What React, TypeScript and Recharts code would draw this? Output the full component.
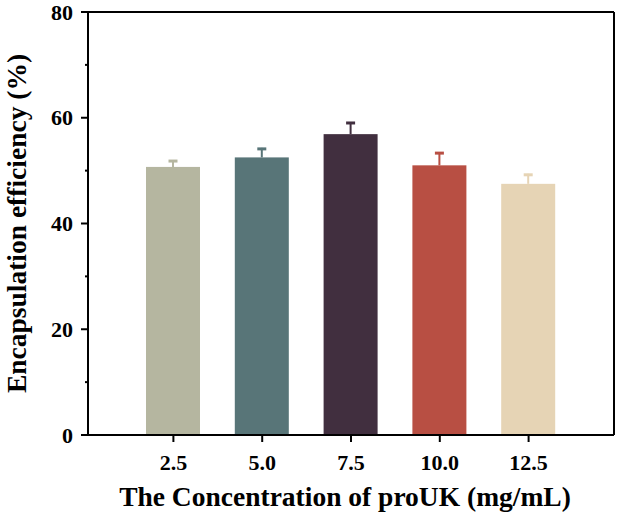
import React from 'react';
import { BarChart, Bar, XAxis, YAxis, Label, CartesianGrid } from 'recharts';

const concentrations = ['2.5', '5.0', '7.5', '10.0', '12.5'];
const efficiency = [50.7, 52.5, 56.9, 51.0, 47.5];
const errors = [1.3, 1.8, 2.3, 2.5, 1.9];
const barColors = ['#b5b6a0', '#587578', '#412f3f', '#b84f43', '#e6d4b5'];
const yTicks = [0, 10, 20, 30, 40, 50, 60, 70, 80];

const data = concentrations.map((name, i) => ({ name, value: efficiency[i], err: errors[i] }));

const FONT = '"Liberation Serif", "Times New Roman", serif';
const TICK_SIZE = 7;
const TICK_MARGIN = 8;

// bar with upper error whisker in the bar's own colour
const BarWithError = (props: any) => {
  const { x, y, width, height, index, payload } = props;
  const color = barColors[index];
  const pxPerUnit = height / payload.value;
  const top = y - payload.err * pxPerUnit;
  const cx = x + width / 2;
  return (
    <g>
      <rect x={x} y={y} width={width} height={height} fill={color} />
      <line x1={cx} x2={cx} y1={y} y2={top} stroke={color} strokeWidth={2} />
      <line x1={cx - 4.5} x2={cx + 4.5} y1={top + 1} y2={top + 1} stroke={color} strokeWidth={3} />
    </g>
  );
};

// major ticks every 20 with labels, short minor ticks in between
const YTick = (props: any) => {
  const { x, y, payload } = props;
  const v = payload.value;
  const axisX = x + TICK_SIZE + TICK_MARGIN;
  const major = v % 20 === 0;
  return (
    <g>
      <line x1={axisX - (major ? TICK_SIZE : 3)} x2={axisX} y1={y} y2={y} stroke="#000" strokeWidth={2} />
      {major && (
        <text x={x} y={y} textAnchor="end" dominantBaseline="central" fontFamily={FONT} fontWeight="bold" fontSize={22} fill="#000">
          {v}
        </text>
      )}
    </g>
  );
};

const YTitle = (props: any) => {
  const { viewBox } = props;
  const cx = viewBox.x + 16;
  const cy = viewBox.y + viewBox.height / 2;
  return (
    <text x={cx} y={cy} transform={`rotate(-90, ${cx}, ${cy})`} textAnchor="middle" dominantBaseline="central" fontFamily={FONT} fontWeight="bold" fontSize={27.5} fill="#000">
      Encapsulation efficiency (%)
    </text>
  );
};

const XTitle = (props: any) => {
  const { viewBox } = props;
  const cx = viewBox.x + viewBox.width / 2 - 6;
  return (
    <text x={cx} y={viewBox.y + viewBox.height - 7} textAnchor="middle" fontFamily={FONT} fontWeight="bold" fontSize={27.5} fill="#000">
      The Concentration of proUK (mg/mL)
    </text>
  );
};

// closes the frame: one line along the top and one along the right of the plot
const topEdge = ({ offset }: any) => [offset.top];
const rightEdge = ({ offset }: any) => [offset.left + offset.width];

export default function App() {
  return (
    <div style={{ position: 'absolute', left: 0, top: 0, background: '#fff' }}>
      <BarChart width={620} height={513} data={data} margin={{ top: 12, right: 6, bottom: 0, left: 0 }}>
        <CartesianGrid
          stroke="#000"
          strokeWidth={2}
          horizontalCoordinatesGenerator={topEdge}
          verticalCoordinatesGenerator={rightEdge}
        />
        <XAxis
          dataKey="name"
          height={78}
          padding={{ left: 41, right: 41 }}
          tickSize={TICK_SIZE}
          tickMargin={12}
          axisLine={{ stroke: '#000', strokeWidth: 2 }}
          tickLine={{ stroke: '#000', strokeWidth: 2 }}
          tick={{ fontFamily: FONT, fontWeight: 'bold', fontSize: 22, fill: '#000' }}
        >
          <Label content={<XTitle />} />
        </XAxis>
        <YAxis
          width={88}
          domain={[0, 80]}
          ticks={yTicks}
          interval={0}
          tickSize={TICK_SIZE}
          tickMargin={TICK_MARGIN}
          tickLine={false}
          axisLine={{ stroke: '#000', strokeWidth: 2 }}
          tick={<YTick />}
        >
          <Label content={<YTitle />} />
        </YAxis>
        <Bar dataKey="value" barSize={54} shape={<BarWithError />} isAnimationActive={false} />
      </BarChart>
    </div>
  );
}
